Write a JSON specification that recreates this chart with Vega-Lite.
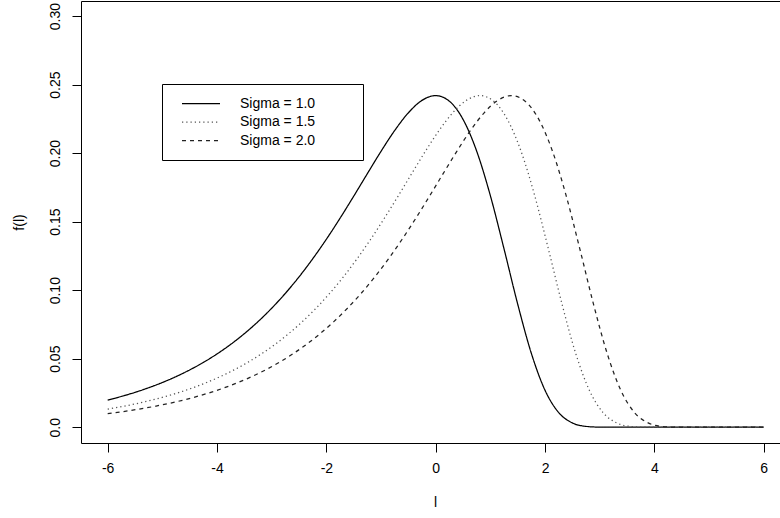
{
  "$schema": "https://vega.github.io/schema/vega-lite/v6.json",
  "width": 699,
  "height": 442,
  "autosize": {"type": "none"},
  "padding": {"left": 81, "top": 1, "right": 0, "bottom": 75},
  "background": "white",
  "config": {
    "view": {"stroke": null},
    "font": "Liberation Sans",
    "axis": {"grid": false, "domainColor": "black", "tickColor": "black", "labelColor": "black", "titleColor": "black", "labelFont": "Liberation Sans", "titleFont": "Liberation Sans", "labelFontSize": 14, "titleFontSize": 14, "titleFontWeight": "normal", "tickSize": 9, "domainWidth": 1, "tickWidth": 1},
    "legend": {"title": null, "orient": "none", "legendX": 81, "legendY": 83, "strokeColor": "black", "fillColor": "white", "padding": 12, "symbolType": "stroke", "symbolSize": 1444, "symbolStrokeWidth": 1.25, "symbolOffset": 7, "labelFontSize": 14, "labelFont": "Liberation Sans", "labelColor": "black", "labelOffset": 19, "clipHeight": 15, "rowPadding": 3.5}
  },
  "data": {"values": [
    {"l": -6, "f": 0.019837, "s": "Sigma = 1.0"},
    {"l": -5.75, "f": 0.022471, "s": "Sigma = 1.0"},
    {"l": -5.5, "f": 0.025452, "s": "Sigma = 1.0"},
    {"l": -5.25, "f": 0.028824, "s": "Sigma = 1.0"},
    {"l": -5, "f": 0.032637, "s": "Sigma = 1.0"},
    {"l": -4.75, "f": 0.036947, "s": "Sigma = 1.0"},
    {"l": -4.5, "f": 0.041815, "s": "Sigma = 1.0"},
    {"l": -4.25, "f": 0.047308, "s": "Sigma = 1.0"},
    {"l": -4, "f": 0.053499, "s": "Sigma = 1.0"},
    {"l": -3.75, "f": 0.060464, "s": "Sigma = 1.0"},
    {"l": -3.5, "f": 0.068287, "s": "Sigma = 1.0"},
    {"l": -3.25, "f": 0.077048, "s": "Sigma = 1.0"},
    {"l": -3, "f": 0.086828, "s": "Sigma = 1.0"},
    {"l": -2.75, "f": 0.097696, "s": "Sigma = 1.0"},
    {"l": -2.5, "f": 0.109703, "s": "Sigma = 1.0"},
    {"l": -2.25, "f": 0.122869, "s": "Sigma = 1.0"},
    {"l": -2, "f": 0.137161, "s": "Sigma = 1.0"},
    {"l": -1.75, "f": 0.152465, "s": "Sigma = 1.0"},
    {"l": -1.5, "f": 0.168555, "s": "Sigma = 1.0"},
    {"l": -1.25, "f": 0.185039, "s": "Sigma = 1.0"},
    {"l": -1, "f": 0.201316, "s": "Sigma = 1.0"},
    {"l": -0.75, "f": 0.21651, "s": "Sigma = 1.0"},
    {"l": -0.5, "f": 0.229421, "s": "Sigma = 1.0"},
    {"l": -0.25, "f": 0.238513, "s": "Sigma = 1.0"},
    {"l": 0, "f": 0.241971, "s": "Sigma = 1.0"},
    {"l": 0.25, "f": 0.237889, "s": "Sigma = 1.0"},
    {"l": 0.5, "f": 0.22463, "s": "Sigma = 1.0"},
    {"l": 0.75, "f": 0.201405, "s": "Sigma = 1.0"},
    {"l": 1, "f": 0.168965, "s": "Sigma = 1.0"},
    {"l": 1.25, "f": 0.130144, "s": "Sigma = 1.0"},
    {"l": 1.5, "f": 0.089835, "s": "Sigma = 1.0"},
    {"l": 1.75, "f": 0.053867, "s": "Sigma = 1.0"},
    {"l": 2, "f": 0.026958, "s": "Sigma = 1.0"},
    {"l": 2.25, "f": 0.010697, "s": "Sigma = 1.0"},
    {"l": 2.5, "f": 0.00315, "s": "Sigma = 1.0"},
    {"l": 2.75, "f": 0.000633, "s": "Sigma = 1.0"},
    {"l": 3, "f": 0.000078, "s": "Sigma = 1.0"},
    {"l": 3.25, "f": 0.000005, "s": "Sigma = 1.0"},
    {"l": 3.5, "f": 0, "s": "Sigma = 1.0"},
    {"l": 4, "f": 0, "s": "Sigma = 1.0"},
    {"l": 5, "f": 0, "s": "Sigma = 1.0"},
    {"l": 6, "f": 0, "s": "Sigma = 1.0"},

    {"l": -6, "f": 0.013234, "s": "Sigma = 1.5"},
    {"l": -5.68907, "f": 0.015457, "s": "Sigma = 1.5"},
    {"l": -5.18907, "f": 0.019837, "s": "Sigma = 1.5"},
    {"l": -4.93907, "f": 0.022471, "s": "Sigma = 1.5"},
    {"l": -4.68907, "f": 0.025452, "s": "Sigma = 1.5"},
    {"l": -4.43907, "f": 0.028824, "s": "Sigma = 1.5"},
    {"l": -4.18907, "f": 0.032637, "s": "Sigma = 1.5"},
    {"l": -3.93907, "f": 0.036947, "s": "Sigma = 1.5"},
    {"l": -3.68907, "f": 0.041815, "s": "Sigma = 1.5"},
    {"l": -3.43907, "f": 0.047308, "s": "Sigma = 1.5"},
    {"l": -3.18907, "f": 0.053499, "s": "Sigma = 1.5"},
    {"l": -2.93907, "f": 0.060464, "s": "Sigma = 1.5"},
    {"l": -2.68907, "f": 0.068287, "s": "Sigma = 1.5"},
    {"l": -2.43907, "f": 0.077048, "s": "Sigma = 1.5"},
    {"l": -2.18907, "f": 0.086828, "s": "Sigma = 1.5"},
    {"l": -1.93907, "f": 0.097696, "s": "Sigma = 1.5"},
    {"l": -1.68907, "f": 0.109703, "s": "Sigma = 1.5"},
    {"l": -1.43907, "f": 0.122869, "s": "Sigma = 1.5"},
    {"l": -1.18907, "f": 0.137161, "s": "Sigma = 1.5"},
    {"l": -0.93907, "f": 0.152465, "s": "Sigma = 1.5"},
    {"l": -0.68907, "f": 0.168555, "s": "Sigma = 1.5"},
    {"l": -0.43907, "f": 0.185039, "s": "Sigma = 1.5"},
    {"l": -0.18907, "f": 0.201316, "s": "Sigma = 1.5"},
    {"l": 0.06093, "f": 0.21651, "s": "Sigma = 1.5"},
    {"l": 0.31093, "f": 0.229421, "s": "Sigma = 1.5"},
    {"l": 0.56093, "f": 0.238513, "s": "Sigma = 1.5"},
    {"l": 0.81093, "f": 0.241971, "s": "Sigma = 1.5"},
    {"l": 1.06093, "f": 0.237889, "s": "Sigma = 1.5"},
    {"l": 1.31093, "f": 0.22463, "s": "Sigma = 1.5"},
    {"l": 1.56093, "f": 0.201405, "s": "Sigma = 1.5"},
    {"l": 1.81093, "f": 0.168965, "s": "Sigma = 1.5"},
    {"l": 2.06093, "f": 0.130144, "s": "Sigma = 1.5"},
    {"l": 2.31093, "f": 0.089835, "s": "Sigma = 1.5"},
    {"l": 2.56093, "f": 0.053867, "s": "Sigma = 1.5"},
    {"l": 2.81093, "f": 0.026958, "s": "Sigma = 1.5"},
    {"l": 3.06093, "f": 0.010697, "s": "Sigma = 1.5"},
    {"l": 3.31093, "f": 0.00315, "s": "Sigma = 1.5"},
    {"l": 3.56093, "f": 0.000633, "s": "Sigma = 1.5"},
    {"l": 3.81093, "f": 0.000078, "s": "Sigma = 1.5"},
    {"l": 4.06093, "f": 0.000005, "s": "Sigma = 1.5"},
    {"l": 4.31093, "f": 0, "s": "Sigma = 1.5"},
    {"l": 5, "f": 0, "s": "Sigma = 1.5"},
    {"l": 6, "f": 0, "s": "Sigma = 1.5"},

    {"l": -6, "f": 0.009928, "s": "Sigma = 2.0"},
    {"l": -5.61371, "f": 0.012041, "s": "Sigma = 2.0"},
    {"l": -5.11371, "f": 0.015457, "s": "Sigma = 2.0"},
    {"l": -4.61371, "f": 0.019837, "s": "Sigma = 2.0"},
    {"l": -4.36371, "f": 0.022471, "s": "Sigma = 2.0"},
    {"l": -4.11371, "f": 0.025452, "s": "Sigma = 2.0"},
    {"l": -3.86371, "f": 0.028824, "s": "Sigma = 2.0"},
    {"l": -3.61371, "f": 0.032637, "s": "Sigma = 2.0"},
    {"l": -3.36371, "f": 0.036947, "s": "Sigma = 2.0"},
    {"l": -3.11371, "f": 0.041815, "s": "Sigma = 2.0"},
    {"l": -2.86371, "f": 0.047308, "s": "Sigma = 2.0"},
    {"l": -2.61371, "f": 0.053499, "s": "Sigma = 2.0"},
    {"l": -2.36371, "f": 0.060464, "s": "Sigma = 2.0"},
    {"l": -2.11371, "f": 0.068287, "s": "Sigma = 2.0"},
    {"l": -1.86371, "f": 0.077048, "s": "Sigma = 2.0"},
    {"l": -1.61371, "f": 0.086828, "s": "Sigma = 2.0"},
    {"l": -1.36371, "f": 0.097696, "s": "Sigma = 2.0"},
    {"l": -1.11371, "f": 0.109703, "s": "Sigma = 2.0"},
    {"l": -0.86371, "f": 0.122869, "s": "Sigma = 2.0"},
    {"l": -0.61371, "f": 0.137161, "s": "Sigma = 2.0"},
    {"l": -0.36371, "f": 0.152465, "s": "Sigma = 2.0"},
    {"l": -0.11371, "f": 0.168555, "s": "Sigma = 2.0"},
    {"l": 0.13629, "f": 0.185039, "s": "Sigma = 2.0"},
    {"l": 0.38629, "f": 0.201316, "s": "Sigma = 2.0"},
    {"l": 0.63629, "f": 0.21651, "s": "Sigma = 2.0"},
    {"l": 0.88629, "f": 0.229421, "s": "Sigma = 2.0"},
    {"l": 1.13629, "f": 0.238513, "s": "Sigma = 2.0"},
    {"l": 1.38629, "f": 0.241971, "s": "Sigma = 2.0"},
    {"l": 1.63629, "f": 0.237889, "s": "Sigma = 2.0"},
    {"l": 1.88629, "f": 0.22463, "s": "Sigma = 2.0"},
    {"l": 2.13629, "f": 0.201405, "s": "Sigma = 2.0"},
    {"l": 2.38629, "f": 0.168965, "s": "Sigma = 2.0"},
    {"l": 2.63629, "f": 0.130144, "s": "Sigma = 2.0"},
    {"l": 2.88629, "f": 0.089835, "s": "Sigma = 2.0"},
    {"l": 3.13629, "f": 0.053867, "s": "Sigma = 2.0"},
    {"l": 3.38629, "f": 0.026958, "s": "Sigma = 2.0"},
    {"l": 3.63629, "f": 0.010697, "s": "Sigma = 2.0"},
    {"l": 3.88629, "f": 0.00315, "s": "Sigma = 2.0"},
    {"l": 4.13629, "f": 0.000633, "s": "Sigma = 2.0"},
    {"l": 4.38629, "f": 0.000078, "s": "Sigma = 2.0"},
    {"l": 4.63629, "f": 0.000005, "s": "Sigma = 2.0"},
    {"l": 4.88629, "f": 0, "s": "Sigma = 2.0"},
    {"l": 6, "f": 0, "s": "Sigma = 2.0"}
  ]},
  "layer": [
    {
      "mark": {"type": "line", "interpolate": "monotone", "strokeWidth": 1.25},
      "encoding": {
        "x": {"field": "l", "type": "quantitative", "scale": {"domain": [-6.488, 6.298], "nice": false, "zero": false},
              "axis": {"orient": "bottom", "values": [-6, -4, -2, 0, 2, 4, 6], "labelExpr": "datum.value < 0 ? '-' + abs(datum.value) : '' + datum.value", "title": "l", "labelPadding": 9, "titlePadding": 20, "titleX": 354}},
        "y": {"field": "f", "type": "quantitative", "scale": {"domain": [-0.0115, 0.311], "nice": false, "zero": false},
              "axis": {"values": [0, 0.05, 0.1, 0.15, 0.2, 0.25, 0.3], "labelExpr": "datum.value == 0 ? '0.0' : format(datum.value, '.2f')", "labelAngle": -90, "labelAlign": "center", "labelBaseline": "bottom", "labelPadding": 10, "title": "f(l)", "titlePadding": 22}},
        "color": {"field": "s", "type": "nominal", "scale": {"domain": ["Sigma = 1.0", "Sigma = 1.5", "Sigma = 2.0"], "range": ["#000000", "#555555", "#222222"]},
                  "legend": {"labelExpr": "datum.label + '\u00a0\u00a0\u00a0\u00a0\u00a0\u00a0\u00a0\u00a0\u00a0\u200b'"}},
        "strokeDash": {"field": "s", "type": "nominal", "scale": {"domain": ["Sigma = 1.0", "Sigma = 1.5", "Sigma = 2.0"], "range": [[1, 0], [1.25, 3], [4, 4]]},
                  "legend": {"labelExpr": "datum.label + '\u00a0\u00a0\u00a0\u00a0\u00a0\u00a0\u00a0\u00a0\u00a0\u200b'"}}
      }
    },
    {
      "mark": {"type": "line", "strokeOpacity": 0},
      "encoding": {
        "x": {"field": "l", "type": "quantitative", "axis": {"orient": "top", "labels": false, "ticks": false, "title": null}},
        "y": {"field": "f", "type": "quantitative"}
      }
    }
  ],
  "resolve": {"axis": {"x": "independent"}}
}
